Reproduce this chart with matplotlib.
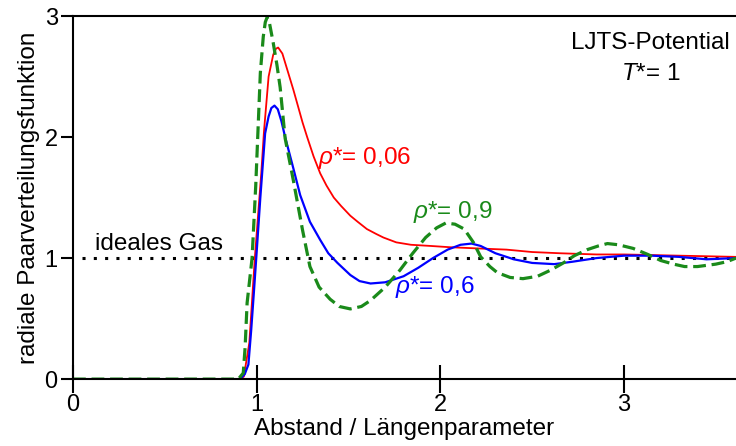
import matplotlib as mpl
import numpy as np

mpl.use('Agg')
from matplotlib import pyplot as plt

plt.rcParams['font.family'] = ['Liberation Sans', 'DejaVu Sans']
plt.rcParams['mathtext.fontset'] = 'custom'
plt.rcParams['mathtext.rm'] = 'Liberation Sans'
plt.rcParams['mathtext.it'] = 'Liberation Sans:italic'

# rho* = 0.06 (dilute)
x_006 = [0, 0.90, 0.93, 0.96, 0.99, 1.025, 1.04, 1.065, 1.09, 1.105, 1.117, 1.14,
         1.172, 1.2, 1.226, 1.25, 1.275, 1.31, 1.346, 1.38, 1.42, 1.46, 1.51, 1.55,
         1.6, 1.65, 1.69, 1.76, 1.84, 1.95, 2.05, 2.2, 2.36, 2.5, 2.65, 2.85,
         3.0, 3.3, 3.61]
g_006 = [0, 0, 0.02, 0.3, 1.0, 1.7, 2.05, 2.5, 2.68, 2.73, 2.74, 2.69,
         2.53, 2.39, 2.25, 2.12, 2.0, 1.84, 1.70, 1.60, 1.50, 1.43, 1.35, 1.30,
         1.24, 1.20, 1.17, 1.13, 1.11, 1.10, 1.09, 1.08, 1.07, 1.05, 1.04, 1.03,
         1.03, 1.02, 1.01]

# rho* = 0.6
x_06 = [0, 0.91, 0.935, 0.955, 0.97, 0.985, 1.0, 1.02, 1.046, 1.065, 1.08, 1.097,
        1.115, 1.135, 1.155, 1.2, 1.237, 1.29, 1.346, 1.39, 1.44, 1.51, 1.56, 1.62,
        1.7, 1.8, 1.88, 1.96, 2.04, 2.11, 2.17, 2.22, 2.3, 2.4, 2.5, 2.62,
        2.72, 2.85, 3.0, 3.15, 3.3, 3.45, 3.61]
g_06 = [0, 0, 0.04, 0.12, 0.40, 0.72, 1.05, 1.5, 2.03, 2.17, 2.24, 2.26,
        2.23, 2.13, 2.0, 1.74, 1.52, 1.30, 1.15, 1.04, 0.96, 0.86, 0.81, 0.79,
        0.80, 0.85, 0.92, 1.0, 1.07, 1.11, 1.12, 1.10, 1.04, 0.99, 0.96, 0.95,
        0.97, 1.0, 1.02, 1.02, 1.01, 0.99, 1.0]

# rho* = 0.9 (dense liquid)
x_09 = [0, 0.90, 0.927, 0.937, 0.948, 0.975, 0.995, 1.02, 1.036, 1.047, 1.057, 1.07,
        1.09, 1.11, 1.128, 1.155, 1.2, 1.25, 1.29, 1.34, 1.4, 1.45, 1.51, 1.57,
        1.62, 1.7, 1.78, 1.85, 1.92, 1.98, 2.03, 2.08, 2.13, 2.18, 2.22, 2.27,
        2.31, 2.38, 2.45, 2.53, 2.6, 2.67, 2.73, 2.8, 2.86, 2.91, 2.97, 3.05,
        3.13, 3.2, 3.27, 3.33, 3.4, 3.5, 3.56, 3.61]
g_09 = [0, 0, 0.05, 0.26, 0.63, 1.0, 1.6, 2.53, 2.83, 2.95, 2.99, 2.94,
        2.78, 2.6, 2.41, 1.99, 1.64, 1.23, 0.93, 0.76, 0.66, 0.60, 0.58, 0.60,
        0.65, 0.76, 0.90, 1.04, 1.17, 1.25, 1.29, 1.28, 1.24, 1.13, 1.01, 0.93,
        0.88, 0.84, 0.83, 0.85, 0.90, 0.96, 1.02, 1.07, 1.10, 1.12, 1.11, 1.08,
        1.03, 0.98, 0.95, 0.93, 0.93, 0.95, 0.97, 1.0]

fig = plt.figure(figsize=(7.36, 4.46), dpi=100)
ax = fig.add_axes([0.0992, 0.150, 0.9008, 0.814])

ax.plot([0.05, 3.61], [1, 1], color='black', lw=2.2, ls=(0, (1, 2.7)))
ax.plot(x_006, g_006, color='red', lw=1.3)
ax.plot(x_06, g_06, color='blue', lw=1.6)
ax.plot(x_09, g_09, color='#1a8a1a', lw=2.3, ls=(0, (4, 1.8)))

ax.set_xlim(0, 3.61)
ax.set_ylim(0, 3)
ax.set_xticks([0, 1, 2, 3])
ax.set_yticks([0, 1, 2, 3])
ax.spines['right'].set_visible(False)
for s in ['left', 'bottom', 'top']:
    ax.spines[s].set_linewidth(1.5)
ax.tick_params(axis='x', direction='inout', length=20, width=1.5, labelsize=17, pad=1)
ax.tick_params(axis='y', direction='out', length=9, width=1.5, labelsize=17, pad=2)

ax.set_xlabel('Abstand / Längenparameter', fontsize=17.5, labelpad=1)
ax.set_ylabel('radiale Paarverteilungsfunktion', fontsize=17.5, labelpad=3)

ax.text(1.335, 1.83, r'$\rho$*= 0,06', color='red', fontsize=17.5, va='center')
ax.text(1.85, 1.38, r'$\rho$*= 0,9', color='#1a8a1a', fontsize=17.5, va='center')
ax.text(1.755, 0.76, r'$\rho$*= 0,6', color='blue', fontsize=17.5, va='center')
ax.text(0.12, 1.12, 'ideales Gas', color='black', fontsize=17.5, va='center')
ax.text(0.99, 0.925, 'LJTS-Potential', transform=ax.transAxes, fontsize=17.5,
        ha='right', va='center')
ax.text(0.871, 0.84, r'$T$*= 1', transform=ax.transAxes, fontsize=17.5,
        ha='center', va='center')

plt.savefig('out.png', dpi=100)
